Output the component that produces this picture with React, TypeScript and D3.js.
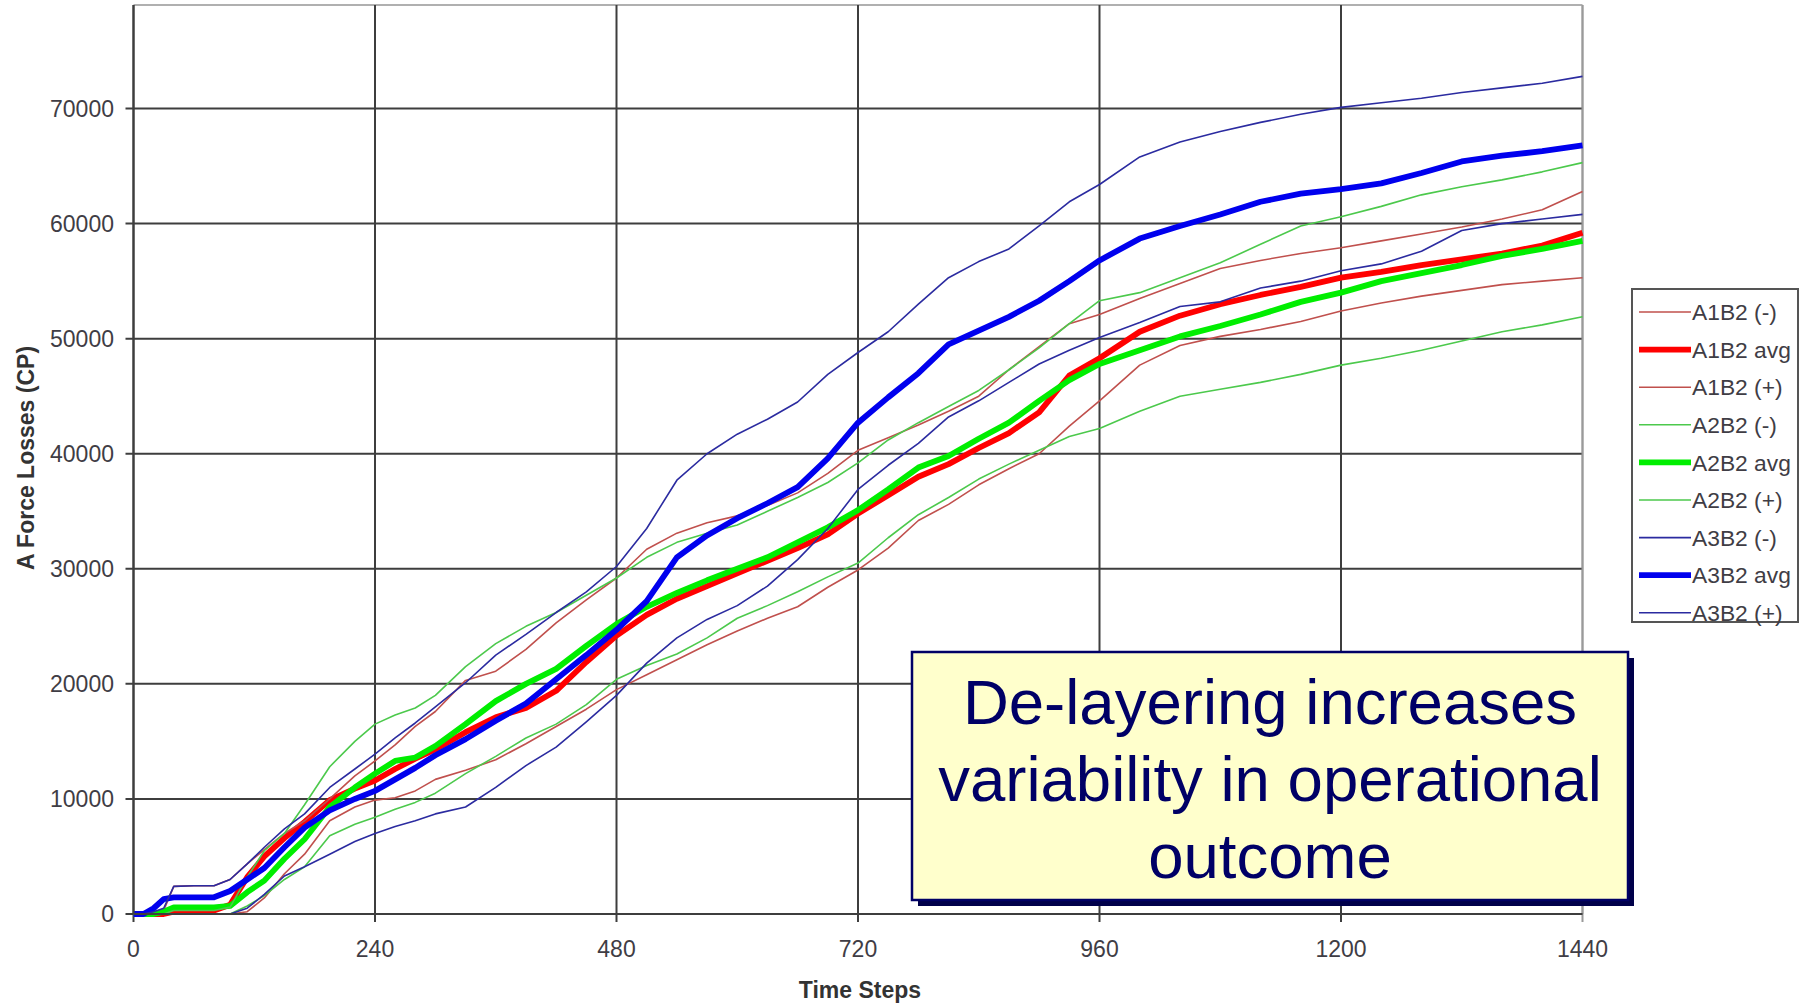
import React, { useRef, useEffect } from 'react';
import * as d3 from 'd3';

// time axis samples
const timeSteps = [0, 10, 20, 30, 40, 60, 80, 96, 113, 130, 150, 170, 195, 220, 240, 260, 280, 300, 330, 360, 390, 420, 450, 480, 510, 540, 570, 600, 630, 660, 690, 720, 750, 780, 810, 840, 870, 900, 930, 960, 1000, 1040, 1080, 1120, 1160, 1200, 1240, 1280, 1320, 1360, 1400, 1440];

const a1b2Minus = [0, 0, 0, 0, 0, 0, 0, 0, 200, 1400, 3500, 5200, 8100, 9300, 9900, 10100, 10700, 11700, 12500, 13400, 14800, 16300, 17800, 19500, 20800, 22100, 23400, 24600, 25700, 26700, 28400, 29900, 31800, 34200, 35600, 37300, 38700, 40000, 42400, 44600, 47700, 49400, 50200, 50800, 51500, 52400, 53100, 53700, 54200, 54700, 55000, 55300];
const a1b2Avg = [0, 0, 0, 0, 200, 300, 300, 800, 3200, 5000, 6600, 8000, 9900, 10900, 11600, 12600, 13500, 14300, 15800, 17100, 17900, 19400, 21900, 24200, 26000, 27400, 28500, 29600, 30700, 31800, 33000, 34800, 36400, 38000, 39100, 40500, 41800, 43600, 46800, 48300, 50600, 52000, 53000, 53800, 54500, 55300, 55800, 56400, 56900, 57400, 58100, 59200];
const a1b2Plus = [0, 0, 0, 300, 2400, 2450, 2450, 3000, 4350, 5600, 7000, 8100, 10000, 12000, 13300, 14700, 16300, 17600, 20300, 21100, 23000, 25300, 27300, 29200, 31700, 33100, 34000, 34600, 35500, 36600, 38300, 40300, 41400, 42500, 43700, 45000, 47300, 49300, 51300, 52100, 53500, 54800, 56100, 56800, 57400, 57900, 58500, 59100, 59700, 60400, 61200, 62800];
const a2b2Minus = [0, 0, 0, 0, 0, 0, 0, 0, 700, 1600, 3000, 4100, 6800, 7800, 8400, 9100, 9700, 10500, 12200, 13700, 15300, 16500, 18200, 20400, 21600, 22600, 24000, 25700, 26800, 28000, 29300, 30500, 32700, 34700, 36200, 37800, 39100, 40300, 41500, 42200, 43700, 45000, 45600, 46200, 46900, 47700, 48300, 49000, 49800, 50600, 51200, 51900];
const a2b2Avg = [0, 0, 0, 200, 580, 580, 580, 700, 1900, 2900, 4800, 6500, 9300, 11000, 12200, 13300, 13600, 14600, 16500, 18500, 20000, 21300, 23300, 25200, 26700, 27900, 29000, 30000, 31000, 32300, 33600, 35100, 36900, 38800, 39800, 41300, 42700, 44600, 46400, 47800, 49000, 50200, 51100, 52100, 53200, 54000, 55000, 55700, 56400, 57200, 57800, 58500];
const a2b2Plus = [0, 0, 0, 0, 300, 300, 300, 600, 3200, 5500, 7000, 9500, 12800, 15000, 16500, 17300, 17900, 19000, 21500, 23500, 25000, 26200, 27700, 29200, 31000, 32300, 33100, 33800, 35000, 36200, 37500, 39200, 41200, 42700, 44100, 45500, 47300, 49200, 51300, 53300, 54000, 55300, 56600, 58200, 59800, 60600, 61500, 62500, 63200, 63800, 64500, 65300];
const a3b2Minus = [0, 0, 0, 0, 0, 0, 0, 0, 500, 1700, 3300, 4100, 5200, 6300, 7000, 7600, 8100, 8700, 9300, 11000, 12900, 14500, 16700, 19000, 21800, 24000, 25600, 26800, 28500, 30800, 33500, 36900, 39000, 40900, 43200, 44600, 46200, 47800, 49000, 50100, 51400, 52800, 53200, 54400, 55000, 55900, 56500, 57600, 59400, 60000, 60400, 60800];
const a3b2Avg = [0, 0, 500, 1300, 1450, 1450, 1450, 2000, 3000, 4000, 5800, 7500, 9000, 10000, 10700, 11700, 12700, 13800, 15200, 16800, 18300, 20400, 22500, 24700, 27200, 31000, 32900, 34400, 35700, 37100, 39600, 42700, 44900, 47000, 49500, 50700, 51900, 53300, 55000, 56800, 58700, 59800, 60800, 61900, 62600, 63000, 63500, 64400, 65400, 65900, 66300, 66800];
const a3b2Plus = [0, 0, 200, 500, 2400, 2450, 2450, 3000, 4350, 5800, 7400, 8700, 11000, 12600, 13900, 15300, 16600, 18000, 20100, 22500, 24300, 26200, 28000, 30200, 33500, 37700, 40000, 41700, 43000, 44500, 46900, 48800, 50600, 53000, 55300, 56700, 57800, 59800, 61900, 63400, 65800, 67100, 68000, 68800, 69500, 70100, 70500, 70900, 71400, 71800, 72200, 72800];

const seriesNames = ['A1B2 (-)', 'A1B2 avg', 'A1B2 (+)', 'A2B2 (-)', 'A2B2 avg', 'A2B2 (+)', 'A3B2 (-)', 'A3B2 avg', 'A3B2 (+)'];
const seriesValues = [a1b2Minus, a1b2Avg, a1b2Plus, a2b2Minus, a2b2Avg, a2b2Plus, a3b2Minus, a3b2Avg, a3b2Plus];

const xTicks = [0, 240, 480, 720, 960, 1200, 1440];
const yTicks = [0, 10000, 20000, 30000, 40000, 50000, 60000, 70000];

const noteLines = ['De-layering increases', 'variability in operational', 'outcome'];

const FONT = '"Liberation Sans", Arial, sans-serif';

const LossChart = () => {
    const chartRef = useRef<SVGSVGElement>(null);

    useEffect(() => {
        const svg = d3.select(chartRef.current);
        svg.selectAll('*').remove();

        const plot = { left: 133.5, right: 1582.5, top: 5, bottom: 914 };

        const xScale = d3.scaleLinear().domain([0, 1440]).range([plot.left, plot.right]);
        const yScale = d3.scaleLinear().domain([0, 79000]).range([plot.bottom, plot.top]);

        svg.append('rect').attr('width', 1804).attr('height', 1004).attr('fill', '#fff');

        // plot frame (top / right edges are light)
        svg.append('line')
            .attr('x1', plot.left).attr('x2', plot.right)
            .attr('y1', plot.top).attr('y2', plot.top)
            .attr('stroke', '#b0b0b0').attr('stroke-width', 2);
        svg.append('line')
            .attr('x1', plot.right).attr('x2', plot.right)
            .attr('y1', plot.top).attr('y2', plot.bottom)
            .attr('stroke', '#b0b0b0').attr('stroke-width', 2);

        // gridlines + ticks
        const grid = svg.append('g').attr('stroke', '#3e3e3e').attr('stroke-width', 2);
        yTicks.forEach((v) => {
            grid.append('line')
                .attr('x1', plot.left - 8).attr('x2', plot.right)
                .attr('y1', yScale(v)).attr('y2', yScale(v));
        });
        xTicks.forEach((t) => {
            grid.append('line')
                .attr('x1', xScale(t)).attr('x2', xScale(t))
                .attr('y1', plot.top).attr('y2', plot.bottom + 8)
                .attr('stroke', t === 1440 ? '#9a9a9a' : null);
        });

        // tick labels
        svg.append('g')
            .selectAll('text')
            .data(yTicks)
            .enter()
            .append('text')
            .attr('x', 114)
            .attr('y', (d) => yScale(d))
            .attr('dy', '0.36em')
            .attr('text-anchor', 'end')
            .style('font-family', FONT)
            .style('font-size', '23px')
            .style('fill', '#3f3d45')
            .text((d) => d);

        svg.append('g')
            .selectAll('text')
            .data(xTicks)
            .enter()
            .append('text')
            .attr('x', (d) => xScale(d))
            .attr('y', 957)
            .attr('text-anchor', 'middle')
            .style('font-family', FONT)
            .style('font-size', '23px')
            .style('fill', '#3f3d45')
            .text((d) => d);

        // axis titles
        svg.append('text')
            .attr('x', 860)
            .attr('y', 998)
            .attr('text-anchor', 'middle')
            .style('font-family', FONT)
            .style('font-size', '23px')
            .style('font-weight', 'bold')
            .style('fill', '#333')
            .text('Time Steps');

        svg.append('text')
            .attr('transform', 'translate(34,458) rotate(-90)')
            .attr('text-anchor', 'middle')
            .style('font-family', FONT)
            .style('font-size', '23px')
            .style('font-weight', 'bold')
            .style('fill', '#333')
            .text('A Force Losses (CP)');

        const colorScale = d3.scaleOrdinal<string, string>()
            .domain(seriesNames)
            .range(['#c0504d', '#ff0000', '#c0504d', '#4cc94c', '#00ee00', '#4cc94c', '#2b2ba0', '#0000ee', '#2b2ba0']);
        const widthScale = d3.scaleOrdinal<string, number>()
            .domain(seriesNames)
            .range([1.6, 5.8, 1.6, 1.6, 5.8, 1.6, 1.6, 5.8, 1.6]);

        const line = d3.line<number>()
            .x((_, i) => xScale(timeSteps[i]))
            .y((d) => yScale(d));

        // series, drawn in legend order
        svg.append('g')
            .selectAll('path')
            .data(seriesValues)
            .enter()
            .append('path')
            .attr('d', (d) => line(d))
            .attr('fill', 'none')
            .attr('stroke', (_, i) => colorScale(seriesNames[i]))
            .attr('stroke-width', (_, i) => widthScale(seriesNames[i]))
            .attr('stroke-linejoin', 'round');

        // bottom / left axis lines on top
        svg.append('line')
            .attr('x1', plot.left).attr('x2', plot.right)
            .attr('y1', plot.bottom).attr('y2', plot.bottom)
            .attr('stroke', '#3e3e3e').attr('stroke-width', 2);
        svg.append('line')
            .attr('x1', plot.left).attr('x2', plot.left)
            .attr('y1', plot.top).attr('y2', plot.bottom)
            .attr('stroke', '#3e3e3e').attr('stroke-width', 2);

        // legend
        const legend = svg.append('g');
        legend.append('rect')
            .attr('x', 1632).attr('y', 289)
            .attr('width', 166).attr('height', 333)
            .attr('fill', '#fff')
            .attr('stroke', '#555').attr('stroke-width', 2);
        const items = legend.selectAll('.legend')
            .data(seriesNames)
            .enter()
            .append('g')
            .attr('class', 'legend')
            .attr('transform', (d, i) => `translate(0,${312 + i * 37.6})`);
        items.append('line')
            .attr('x1', 1639).attr('x2', 1691)
            .attr('stroke', (d) => colorScale(d))
            .attr('stroke-width', (d) => widthScale(d));
        items.append('text')
            .attr('x', 1692)
            .attr('dy', '0.36em')
            .style('font-family', FONT)
            .style('font-size', '22.8px')
            .style('fill', '#3f3d45')
            .text((d) => d);

        // callout box
        const note = svg.append('g');
        note.append('rect')
            .attr('x', 918).attr('y', 658)
            .attr('width', 716).attr('height', 248)
            .attr('fill', '#00004a');
        note.append('rect')
            .attr('x', 912).attr('y', 652)
            .attr('width', 716).attr('height', 248)
            .attr('fill', '#ffffcc')
            .attr('stroke', '#000066').attr('stroke-width', 2.5);
        note.selectAll('text')
            .data(noteLines)
            .enter()
            .append('text')
            .attr('x', 1270)
            .attr('y', (d, i) => 724 + i * 77)
            .attr('text-anchor', 'middle')
            .style('font-family', FONT)
            .style('font-size', '63.5px')
            .style('fill', '#000066')
            .text((d) => d);
    }, []);

    return <svg ref={chartRef} width={1804} height={1004} style={{ position: 'absolute', left: 0, top: 0 }}></svg>;
};

export default function App() {
    return <LossChart />;
}
